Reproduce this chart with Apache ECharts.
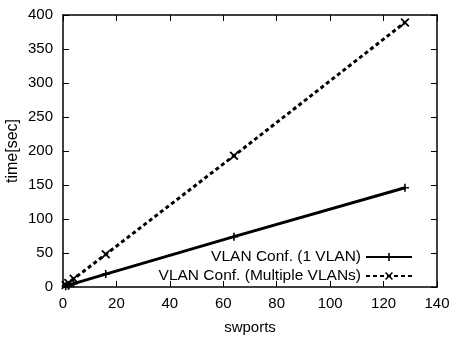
<!DOCTYPE html>
<html>
<head>
<meta charset="utf-8">
<script src="https://cdn.jsdelivr.net/npm/echarts@6/dist/echarts.min.js"></script>
<style>
  html, body { margin: 0; padding: 0; background: #fff; }
  #chart { width: 451px; height: 337px; }
</style>
</head>
<body>
<div id="chart"></div>
<script>
const swports = [1, 2, 4, 16, 64, 128]
const oneVlan = [1, 2, 5, 19, 74, 146]
const multiVlan = [3, 6, 12, 48, 193, 389]
const seriesNames = ['VLAN Conf. (1 VLAN)', 'VLAN Conf. (Multiple VLANs)']

const plusPath = 'path://M4,0H6V4H10V6H6V10H4V6H0V4H4Z'
const crossPath = 'path://M1.4,0L5,3.6L8.6,0L10,1.4L6.4,5L10,8.6L8.6,10L5,6.4L1.4,10L0,8.6L3.6,5L0,1.4Z'

const font = 'Liberation Sans, Arial, sans-serif'
const chart = echarts.init(document.getElementById('chart'))

const pair = (xs, ys) => xs.map((x, i) => [x, ys[i]])

const baseAxis = {
  axisLine: { show: true, onZero: false, lineStyle: { color: '#000', width: 1.5 } },
  axisTick: { show: true, inside: true, length: 6, lineStyle: { color: '#000', width: 1 } },
  splitLine: { show: false }
}

const option = {
  animation: false,
  backgroundColor: '#fff',
  grid: { left: 63, right: 14, top: 15, bottom: 50, containLabel: false, outerBoundsMode: 'none' },
  legend: {
    orient: 'vertical',
    right: 33,
    top: 244,
    align: 'right',
    itemWidth: 46,
    itemHeight: 10,
    itemGap: 3,
    textStyle: { fontFamily: font, fontSize: 15.5, color: '#000' },
    data: seriesNames
  },
  xAxis: [
    Object.assign({}, baseAxis, {
      type: 'value', min: 0, max: 140, interval: 20,
      name: 'swports', nameLocation: 'middle', nameGap: 33, nameMoveOverlap: false,
      nameTextStyle: { fontFamily: font, fontSize: 15, color: '#000' },
      axisLabel: { fontFamily: font, fontSize: 15, color: '#000', margin: 9 }
    }),
    Object.assign({}, baseAxis, {
      type: 'value', position: 'top', min: 0, max: 140, interval: 20,
      axisLabel: { show: false }
    })
  ],
  yAxis: [
    Object.assign({}, baseAxis, {
      type: 'value', min: 0, max: 400, interval: 50,
      name: 'time[sec]', nameLocation: 'middle', nameGap: 42, nameMoveOverlap: false,
      nameTextStyle: { fontFamily: font, fontSize: 16, color: '#000' },
      axisLabel: { fontFamily: font, fontSize: 15, color: '#000', margin: 10 }
    }),
    Object.assign({}, baseAxis, {
      type: 'value', position: 'right', min: 0, max: 400, interval: 50,
      axisLabel: { show: false }
    })
  ],
  series: [
    {
      name: seriesNames[0],
      type: 'line',
      data: pair(swports, oneVlan),
      symbol: plusPath,
      symbolSize: 8,
      itemStyle: { color: '#000' },
      lineStyle: { color: '#000', width: 3 }
    },
    {
      name: seriesNames[1],
      type: 'line',
      data: pair(swports, multiVlan),
      symbol: crossPath,
      symbolSize: 9,
      itemStyle: { color: '#000' },
      lineStyle: { color: '#000', width: 3, type: [4, 3] }
    }
  ]
}

chart.setOption(option)
</script>
</body>
</html>
